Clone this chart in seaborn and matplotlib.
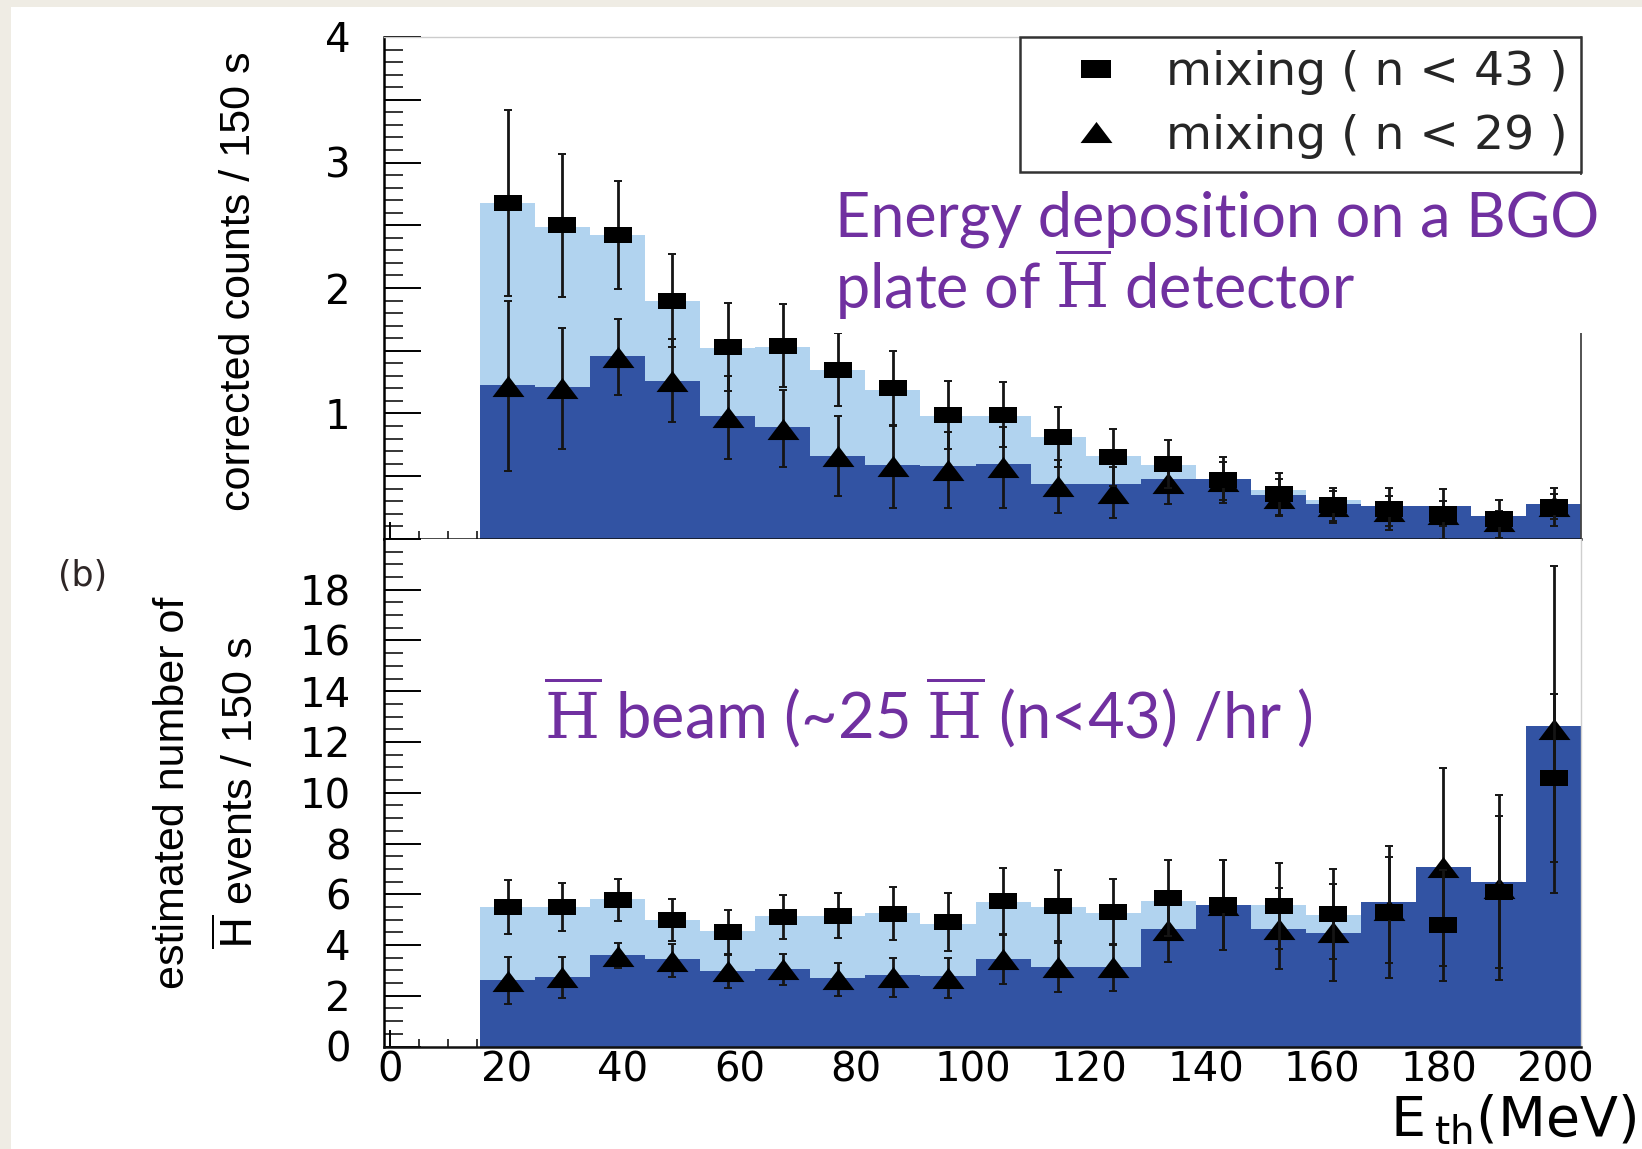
import numpy as np
import pandas as pd
import matplotlib
matplotlib.use("Agg")
import matplotlib.pyplot as plt
from matplotlib.lines import Line2D
from matplotlib.patches import Rectangle
from matplotlib.ticker import MultipleLocator, FuncFormatter
import seaborn as sns

# ------------------------------------------------------------------ data
energy_mev = [20.2, 29.6, 39.1, 48.5, 58.0, 67.4, 76.9, 86.3, 95.8, 105.2,
              114.7, 124.1, 133.6, 143.0, 152.5, 161.9, 171.4, 180.8, 190.3, 199.7]

# top panel: corrected counts / 150 s
hist43_top = [2.68, 2.49, 2.42, 1.90, 1.52, 1.53, 1.35, 1.19, 0.98, 0.98,
              0.81, 0.66, 0.59, 0.47, 0.39, 0.31, 0.26, 0.24, 0.17, 0.26]
hist29_top = [1.23, 1.21, 1.46, 1.26, 0.98, 0.89, 0.66, 0.59, 0.58, 0.60,
              0.44, 0.44, 0.48, 0.48, 0.35, 0.275, 0.26, 0.26, 0.18, 0.28]
sq43_top = [2.68, 2.50, 2.42, 1.90, 1.53, 1.54, 1.35, 1.20, 0.99, 0.99,
            0.81, 0.65, 0.60, 0.47, 0.36, 0.27, 0.24, 0.20, 0.16, 0.255]
sq43_top_err = [0.74, 0.57, 0.43, 0.37, 0.35, 0.33, 0.29, 0.30, 0.27, 0.26,
                0.24, 0.23, 0.19, 0.18, 0.165, 0.14, 0.17, 0.20, 0.15, 0.155]
tri29_top = [1.22, 1.20, 1.45, 1.26, 0.97, 0.88, 0.66, 0.58, 0.55, 0.57,
             0.42, 0.37, 0.45, 0.46, 0.33, 0.26, 0.225, 0.20, 0.14, 0.26]
tri29_top_err = [0.68, 0.48, 0.30, 0.33, 0.33, 0.31, 0.32, 0.33, 0.30, 0.32,
                 0.21, 0.20, 0.17, 0.15, 0.15, 0.12, 0.12, 0.10, 0.08, 0.10]

# bottom panel: estimated number of Hbar events / 150 s
hist43_bot = [5.50, 5.48, 5.80, 4.98, 4.55, 5.14, 5.16, 5.27, 4.84, 5.69,
              5.49, 5.26, 5.75, 5.57, 5.57, 5.17, 5.30, 4.77, 6.10, 10.58]
hist29_bot = [2.62, 2.75, 3.60, 3.43, 2.97, 3.06, 2.69, 2.81, 2.78, 3.46,
              3.12, 3.12, 4.65, 5.57, 4.64, 4.48, 5.69, 7.09, 6.48, 12.63]
sq43_bot = [5.50, 5.50, 5.77, 4.98, 4.52, 5.11, 5.15, 5.24, 4.91, 5.75,
            5.54, 5.29, 5.84, 5.57, 5.54, 5.23, 5.29, 4.77, 6.10, 10.58]
sq43_bot_err = [1.05, 0.93, 0.83, 0.83, 0.86, 0.88, 0.88, 1.05, 1.15, 1.30,
                1.40, 1.30, 1.50, 1.78, 1.70, 1.77, 2.60, 2.20, 3.00, 3.30]
tri29_bot = [2.60, 2.72, 3.58, 3.38, 2.96, 3.04, 2.65, 2.72, 2.70, 3.43,
             3.12, 3.12, 4.58, 5.57, 4.65, 4.50, 5.38, 7.09, 6.26, 12.50]
tri29_bot_err = [0.94, 0.81, 0.50, 0.66, 0.66, 0.60, 0.66, 0.78, 0.80, 0.96,
                 0.96, 0.92, 1.25, 1.78, 1.60, 1.90, 2.10, 3.90, 3.65, 6.45]

legend_labels = ["mixing ( n < 43 )", "mixing ( n < 29 )"]
x_tick_values = [0, 20, 40, 60, 80, 100, 120, 140, 160, 180, 200]
ylabel_top = "corrected counts / 150 s"
ylabel_bot_1 = "estimated number of"
ylabel_bot_2 = r"$\overline{\mathsf{H}}$ events / 150 s"
xlabel_text = r"E$\,_{\mathsf{th}}$(MeV)"
panel_tag = "(b)"
note_top_1 = "Energy deposition on a BGO"
note_top_2 = r"plate of $\overline{\mathrm{H}}$ detector"
note_bot = r"$\overline{\mathrm{H}}$ beam (~25 $\overline{\mathrm{H}}$ (n<43) /hr )"

# ------------------------------------------------------------------ style
LIGHT = "#b1d3ef"
DARK = "#3253a3"
PURPLE = "#7030a0"
BEIGE = "#efece4"

sns.set_style("white")
plt.rcParams["font.family"] = ["DejaVu Sans"]
plt.rcParams["mathtext.fontset"] = "custom"
plt.rcParams["mathtext.rm"] = "DejaVu Serif"
plt.rcParams["mathtext.sf"] = "DejaVu Sans"
plt.rcParams["mathtext.it"] = "DejaVu Serif:italic"
plt.rcParams["mathtext.bf"] = "DejaVu Serif:bold"

W, H = 1642, 1149
fig = plt.figure(figsize=(W / 100, H / 100), dpi=100)
fig.patch.set_facecolor(BEIGE)
fig.add_artist(Rectangle((11 / W, 0), 1, 1 - 7 / H, transform=fig.transFigure,
                         facecolor="white", edgecolor="none", zorder=-5))

x_left, x_right = 384 / W, 1581 / W
y_top_top, y_mid, y_bot = 37, 539, 1046.5
ax_top = fig.add_axes([x_left, 1 - y_mid / H, x_right - x_left, (y_mid - y_top_top) / H])
ax_bot = fig.add_axes([x_left, 1 - y_bot / H, x_right - x_left, (y_bot - y_mid) / H],
                      sharex=ax_top)

c = np.asarray(energy_mev)
edges = np.concatenate([[c[0] - (c[1] - c[0]) / 2], (c[1:] + c[:-1]) / 2,
                        [c[-1] + (c[-1] - c[-2]) / 2]])
bin_edges = [float(e) for e in edges]

df = pd.DataFrame({
    "E": energy_mev,
    "h43_top": hist43_top, "h29_top": hist29_top,
    "h43_bot": hist43_bot, "h29_bot": hist29_bot,
})

SQ = [(-1, -0.61), (1, -0.61), (1, 0.61), (-1, 0.61), (-1, -0.61)]
TRI = [(-1, -0.66), (1, -0.66), (0, 0.66), (-1, -0.66)]
ERR_KW = dict(fmt="none", ecolor="#151515", elinewidth=2.0, capsize=3.0,
              capthick=1.4)


def draw_panel(ax, col43, col29, sq, sq_err, tri, tri_err):
    sns.histplot(data=df, x="E", weights=col43, bins=bin_edges, element="step",
                 fill=True, color=LIGHT, alpha=1, linewidth=0, ax=ax, zorder=1)
    sns.histplot(data=df, x="E", weights=col29, bins=bin_edges, element="step",
                 fill=True, color=DARK, alpha=1, linewidth=0, ax=ax, zorder=1.1)
    ax.errorbar(energy_mev, tri, yerr=tri_err, zorder=3, **ERR_KW)
    ax.plot(energy_mev, tri, linestyle="none", marker=TRI, markersize=23,
            color="black", mew=0, zorder=4)
    ax.errorbar(energy_mev, sq, yerr=sq_err, zorder=5, **ERR_KW)
    ax.plot(energy_mev, sq, linestyle="none", marker=SQ, markersize=20,
            color="black", mew=0, zorder=6)
    ax.set_xlabel("")
    ax.set_ylabel("")
    ax.set_facecolor("white")


draw_panel(ax_top, "h43_top", "h29_top", sq43_top, sq43_top_err,
           tri29_top, tri29_top_err)
draw_panel(ax_bot, "h43_bot", "h29_bot", sq43_bot, sq43_bot_err,
           tri29_bot, tri29_bot_err)

ax_top.set_xlim(-1.0, bin_edges[-1])
ax_top.set_ylim(0, 4)
ax_bot.set_ylim(0, 20)

for ax in (ax_top, ax_bot):
    ax.xaxis.set_major_locator(MultipleLocator(20))
    ax.xaxis.set_minor_locator(MultipleLocator(5))
    ax.tick_params(axis="both", which="both", direction="in", top=False,
                   right=False, left=True, bottom=True, colors="black")
    ax.tick_params(axis="y", which="major", length=26.5, width=1.4, pad=24,
                   labelsize=29)
    ax.tick_params(axis="y", which="minor", length=14, width=1.1)
    ax.tick_params(axis="x", which="major", length=12, width=1.4, pad=3,
                   labelsize=29)
    ax.tick_params(axis="x", which="minor", length=6, width=1.1)
    ax.spines["left"].set_linewidth(1.8)
    ax.spines["left"].set_color("black")
    ax.spines["bottom"].set_linewidth(1.8)
    ax.spines["bottom"].set_color("#111111")

ax_top.yaxis.set_major_locator(MultipleLocator(0.5))
ax_top.yaxis.set_minor_locator(MultipleLocator(0.1))
ax_top.yaxis.set_major_formatter(FuncFormatter(
    lambda v, p: f"{int(round(v))}" if (abs(v - round(v)) < 1e-6 and v > 0.5) else ""))
ax_top.tick_params(axis="x", labelbottom=False)
ax_top.spines["top"].set_color("#cccccc")
ax_top.spines["top"].set_linewidth(1.0)
ax_top.spines["right"].set_color("#444444")
ax_top.spines["right"].set_linewidth(1.3)

ax_bot.yaxis.set_major_locator(MultipleLocator(2))
ax_bot.yaxis.set_minor_locator(MultipleLocator(0.5))
ax_bot.yaxis.set_major_formatter(FuncFormatter(
    lambda v, p: f"{int(round(v))}" if v < 19 else ""))
ax_bot.xaxis.set_major_formatter(FuncFormatter(
    lambda v, p: f"{int(round(v))}" if int(round(v)) in x_tick_values else ""))
ax_bot.spines["top"].set_visible(False)
ax_bot.spines["right"].set_color("#cfcfcf")
ax_bot.spines["right"].set_linewidth(1.0)

# legend
handles = [Line2D([], [], linestyle="none", marker=SQ, markersize=22, color="black", mew=0),
           Line2D([], [], linestyle="none", marker=TRI, markersize=23, color="black", mew=0)]
leg = ax_top.legend(handles, legend_labels, loc="upper right", bbox_to_anchor=(1.0, 1.0),
                    borderaxespad=0, fontsize=34, frameon=True, fancybox=False,
                    framealpha=1, edgecolor="#333333", handlelength=2.67,
                    handletextpad=0.15, borderpad=0.28, labelspacing=0.39)
leg.get_frame().set_linewidth(1.8)
leg.set_zorder(10)

# white patch behind the purple note (hides the right spine there)
fig.add_artist(Rectangle((820 / W, 1 - 333 / H), (1605 - 820) / W, (333 - 175) / H,
                         transform=fig.transFigure, facecolor="white",
                         edgecolor="none", zorder=2))

# purple annotations
note_kw = dict(color=PURPLE, family=["Lato", "DejaVu Sans"],
               fontweight="normal", va="baseline", ha="left", zorder=3)
fig.text(835 / W, 1 - 236 / H, note_top_1, fontsize=44, **note_kw)
fig.text(835 / W, 1 - 309 / H, note_top_2, fontsize=44, **note_kw)
fig.text(544 / W, 1 - 739 / H, note_bot, fontsize=45.5, **note_kw)

# axis labels
lab_kw = dict(family=["Liberation Sans", "DejaVu Sans"], fontsize=31,
              rotation=90, ha="center", va="center", color="black")
fig.text(239 / W, 1 - 281 / H, ylabel_top, **lab_kw)
fig.text(173 / W, 1 - 793 / H, ylabel_bot_1, **lab_kw)
fig.text(239 / W, 1 - 793 / H, ylabel_bot_2, **lab_kw)
fig.text(1636 / W, 1 - 1136 / H, xlabel_text, fontsize=40, ha="right",
         va="baseline", color="black")
fig.text(58 / W, 1 - 576 / H, panel_tag, fontsize=25, ha="left", va="center",
         color="#2e2626")

fig.savefig("out.png", dpi=100, facecolor=fig.get_facecolor())
